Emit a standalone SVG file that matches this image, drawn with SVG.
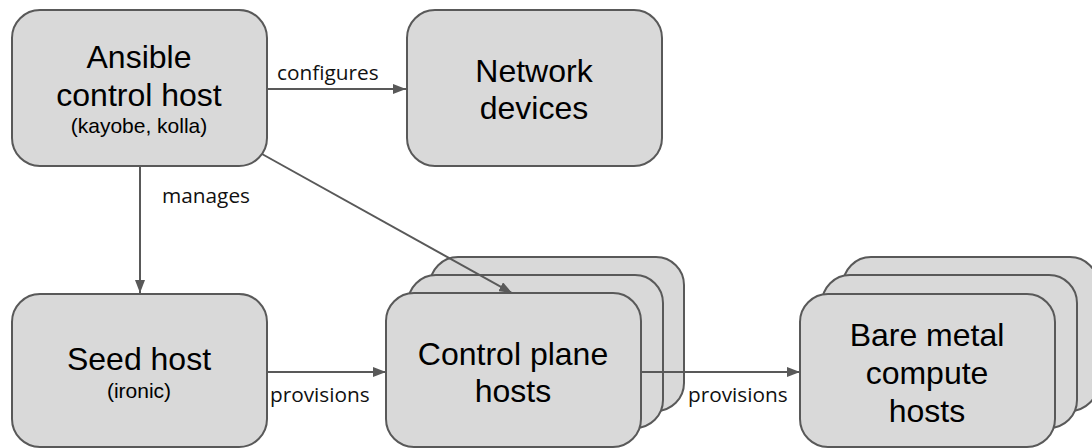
<svg xmlns="http://www.w3.org/2000/svg" width="1092" height="448" viewBox="0 0 1092 448">
<style>
.box{fill:#d9d9d9;stroke:#595959;stroke-width:2}
.t{font-family:"Liberation Sans",Arial,sans-serif;font-size:32px;fill:#000;text-anchor:middle}
.s{font-family:"Liberation Sans",Arial,sans-serif;font-size:21px;fill:#000;text-anchor:middle}
.lbl{font-family:"Open Sans",sans-serif;font-size:20.8px;fill:#111}
.c{stroke:#595959;stroke-width:2;fill:none;marker-end:url(#ah)}
</style>
<defs>
<marker id="ah" markerUnits="userSpaceOnUse" markerWidth="13" markerHeight="10" refX="13" refY="5" orient="auto">
<path d="M0,0 L13,5 L0,10 z" fill="#595959"/>
</marker>
</defs>
<rect width="1092" height="448" fill="#fff"/>
<g id="ansible">
<rect class="box" x="12" y="10" width="255" height="156" rx="28"/>
<text class="t" x="139" y="68">Ansible</text>
<text class="t" x="139" y="106">control host</text>
<text class="s" x="139" y="133">(kayobe, kolla)</text>
</g>
<g id="network">
<rect class="box" x="407" y="10" width="255" height="156" rx="28"/>
<text class="t" x="534" y="82">Network</text>
<text class="t" x="534" y="119">devices</text>
</g>
<g id="seed">
<rect class="box" x="12" y="294" width="255" height="153" rx="28"/>
<text class="t" x="139" y="370">Seed host</text>
<text class="s" x="139" y="398">(ironic)</text>
</g>
<g id="control">
<rect class="box" x="430" y="257" width="254" height="154" rx="28"/>
<rect class="box" x="408" y="275" width="255" height="153" rx="28"/>
<rect class="box" x="386" y="293" width="255" height="154" rx="28"/>
<text class="t" x="513" y="365">Control plane</text>
<text class="t" x="513" y="402">hosts</text>
</g>
<g id="baremetal">
<rect class="box" x="843" y="257" width="255" height="154" rx="28"/>
<rect class="box" x="822" y="275" width="255" height="153" rx="28"/>
<rect class="box" x="800" y="294" width="255" height="153" rx="28"/>
<text class="t" x="927" y="346">Bare metal</text>
<text class="t" x="927" y="384">compute</text>
<text class="t" x="927" y="422">hosts</text>
</g>
<g id="connectors">
<path class="c" d="M267,89 L406,89"/>
<path class="c" d="M140,166 L140,293"/>
<path class="c" d="M262,154 L512,293"/>
<path class="c" d="M267,372 L386,372"/>
<path class="c" d="M641,372 L800,372"/>
<text class="lbl" x="277" y="80">configures</text>
<text class="lbl" x="162" y="203">manages</text>
<text class="lbl" x="270" y="402">provisions</text>
<text class="lbl" x="688" y="402">provisions</text>
</g>
</svg>
